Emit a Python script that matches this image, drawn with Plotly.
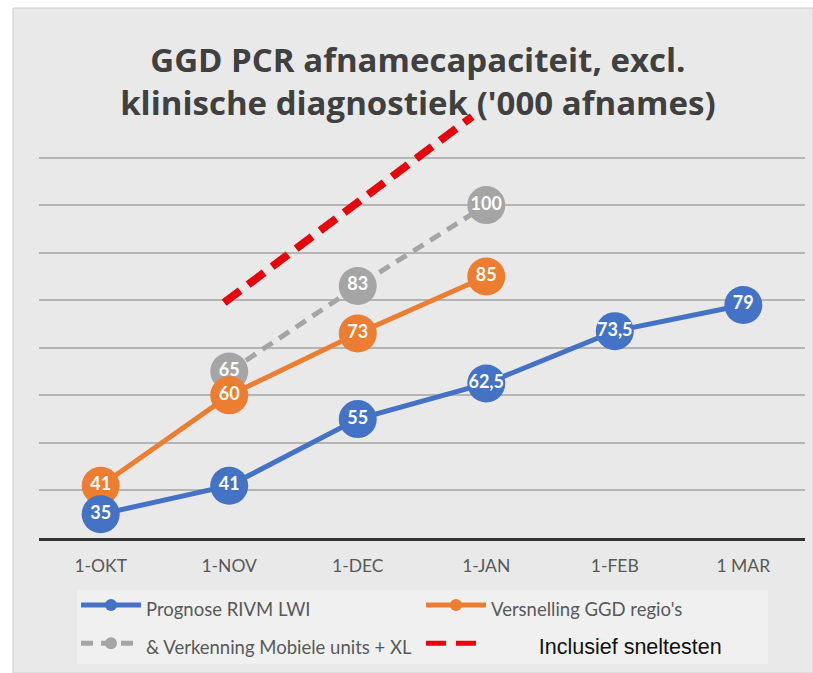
import plotly.graph_objects as go

# ---- data ----
categories = ["1-OKT", "1-NOV", "1-DEC", "1-JAN", "1-FEB", "1 MAR"]
x_idx = list(range(len(categories)))

rivm_values = [35, 41, 55, 62.5, 73.5, 79]          # Prognose RIVM LWI
ggd_values = [41, 60, 73, 85, None, None]           # Versnelling GGD regio's
mobile_values = [None, 65, 83, 100, None, None]     # & Verkenning Mobiele units + XL
snel_x = [0.96, 2.89]                               # Inclusief sneltesten (hand-drawn line)
snel_y = [79.5, 118.6]

grid_vals = [40, 50, 60, 70, 80, 90, 100, 110]

BLUE = "#4472C4"
ORANGE = "#ED7D31"
GRAY = "#A5A5A5"
RED = "#E8000B"
FONT = "Lato"


def fmt(v):
    if v is None:
        return ""
    return ("%g" % v).replace(".", ",")


fig = go.Figure()

series = [
    ("& Verkenning Mobiele units + XL", mobile_values, GRAY, dict(dash="12px,8px", width=5), 3),
    ("Versnelling GGD regio's", ggd_values, ORANGE, dict(width=5), 2),
    ("Prognose RIVM LWI", rivm_values, BLUE, dict(width=5), 1),
]

for name, vals, col, line, rank in series:
    xs = [x for x, v in zip(x_idx, vals) if v is not None]
    ys = [v for v in vals if v is not None]
    fig.add_trace(go.Scatter(
        x=xs, y=ys, mode="lines+markers",
        name='<span style="font-size:18.5px">' + name + '</span>',
        legendrank=rank,
        line=dict(color=col, **line),
        marker=dict(color=col, size=38),
        hoverinfo="skip",
    ))
    fig.add_trace(go.Scatter(
        x=xs, y=ys, mode="text", text=[fmt(v) for v in ys],
        textposition="middle center",
        textfont=dict(family=FONT, size=18, color="white", weight="bold"),
        showlegend=False, hoverinfo="skip",
    ))

fig.add_trace(go.Scatter(
    x=snel_x, y=snel_y, mode="lines",
    name='<span style="font-family:Liberation Sans;font-size:21.5px;color:#111111">'
         '&nbsp;&nbsp;&nbsp;&nbsp;&nbsp;&nbsp;&nbsp;&nbsp;Inclusief sneltesten</span>',
    legendrank=4,
    line=dict(color=RED, width=8, dash="20px,10px"),
    hoverinfo="skip",
))

ML, MR, MT, MB = 39, 8, 110, 135
W, H = 813, 673
PW = W - ML - MR
PH = H - MT - MB


def px_x(p):
    return (p - ML) / PW


def px_y(p):
    return (H - MB - p) / PH


fig.update_layout(
    width=W, height=H,
    margin=dict(l=ML, r=MR, t=MT, b=MB, autoexpand=False),
    paper_bgcolor="white",
    plot_bgcolor="rgba(0,0,0,0)",
    font=dict(family=FONT, color="#595959"),
    title=dict(
        text="GGD PCR afnamecapaciteit, excl.<br>klinische diagnostiek ('000 afnames)",
        font=dict(family="Open Sans", size=33, color="#404040", weight=700),
        x=0.514, xanchor="center", xref="container",
        y=1 - 72 / H, yanchor="top", yref="container",
    ),
    xaxis=dict(
        range=[-0.48, 5.48],
        tickvals=x_idx, ticktext=categories,
        tickfont=dict(family=FONT, size=17.5, color="#595959"),
        showgrid=False, zeroline=False,
        showline=True, linecolor="#333333", linewidth=3,
        ticks="", ticklabelstandoff=10,
    ),
    yaxis=dict(
        range=[30, 120],
        tickvals=grid_vals, showticklabels=False,
        showgrid=True, gridcolor="#b4b4b4", gridwidth=1.5,
        zeroline=False, showline=False,
    ),
    legend=dict(
        orientation="h",
        x=px_x(76), y=px_y(581), xanchor="left", yanchor="top",
        bgcolor="rgba(0,0,0,0)",
        font=dict(family=FONT, size=27, color="#595959"),
        entrywidth=270, entrywidthmode="pixels",
        itemwidth=60,
        itemsizing="constant",
        traceorder="normal",
    ),
    shapes=[
        dict(type="rect", xref="paper", yref="paper", layer="below",
             x0=px_x(13), x1=px_x(813), y0=px_y(673), y1=px_y(8),
             fillcolor="#e9e9e9", line=dict(color="#d0d0d0", width=1)),
        dict(type="rect", xref="paper", yref="paper", layer="below",
             x0=px_x(77), x1=px_x(768), y0=px_y(664), y1=px_y(590),
             fillcolor="#f0f0f0", line=dict(width=0)),
    ],
)

fig.write_html(
    "out.html",
    config={"displayModeBar": False},
    post_script="document.body.style.margin='0';document.body.style.overflow='hidden';",
)
